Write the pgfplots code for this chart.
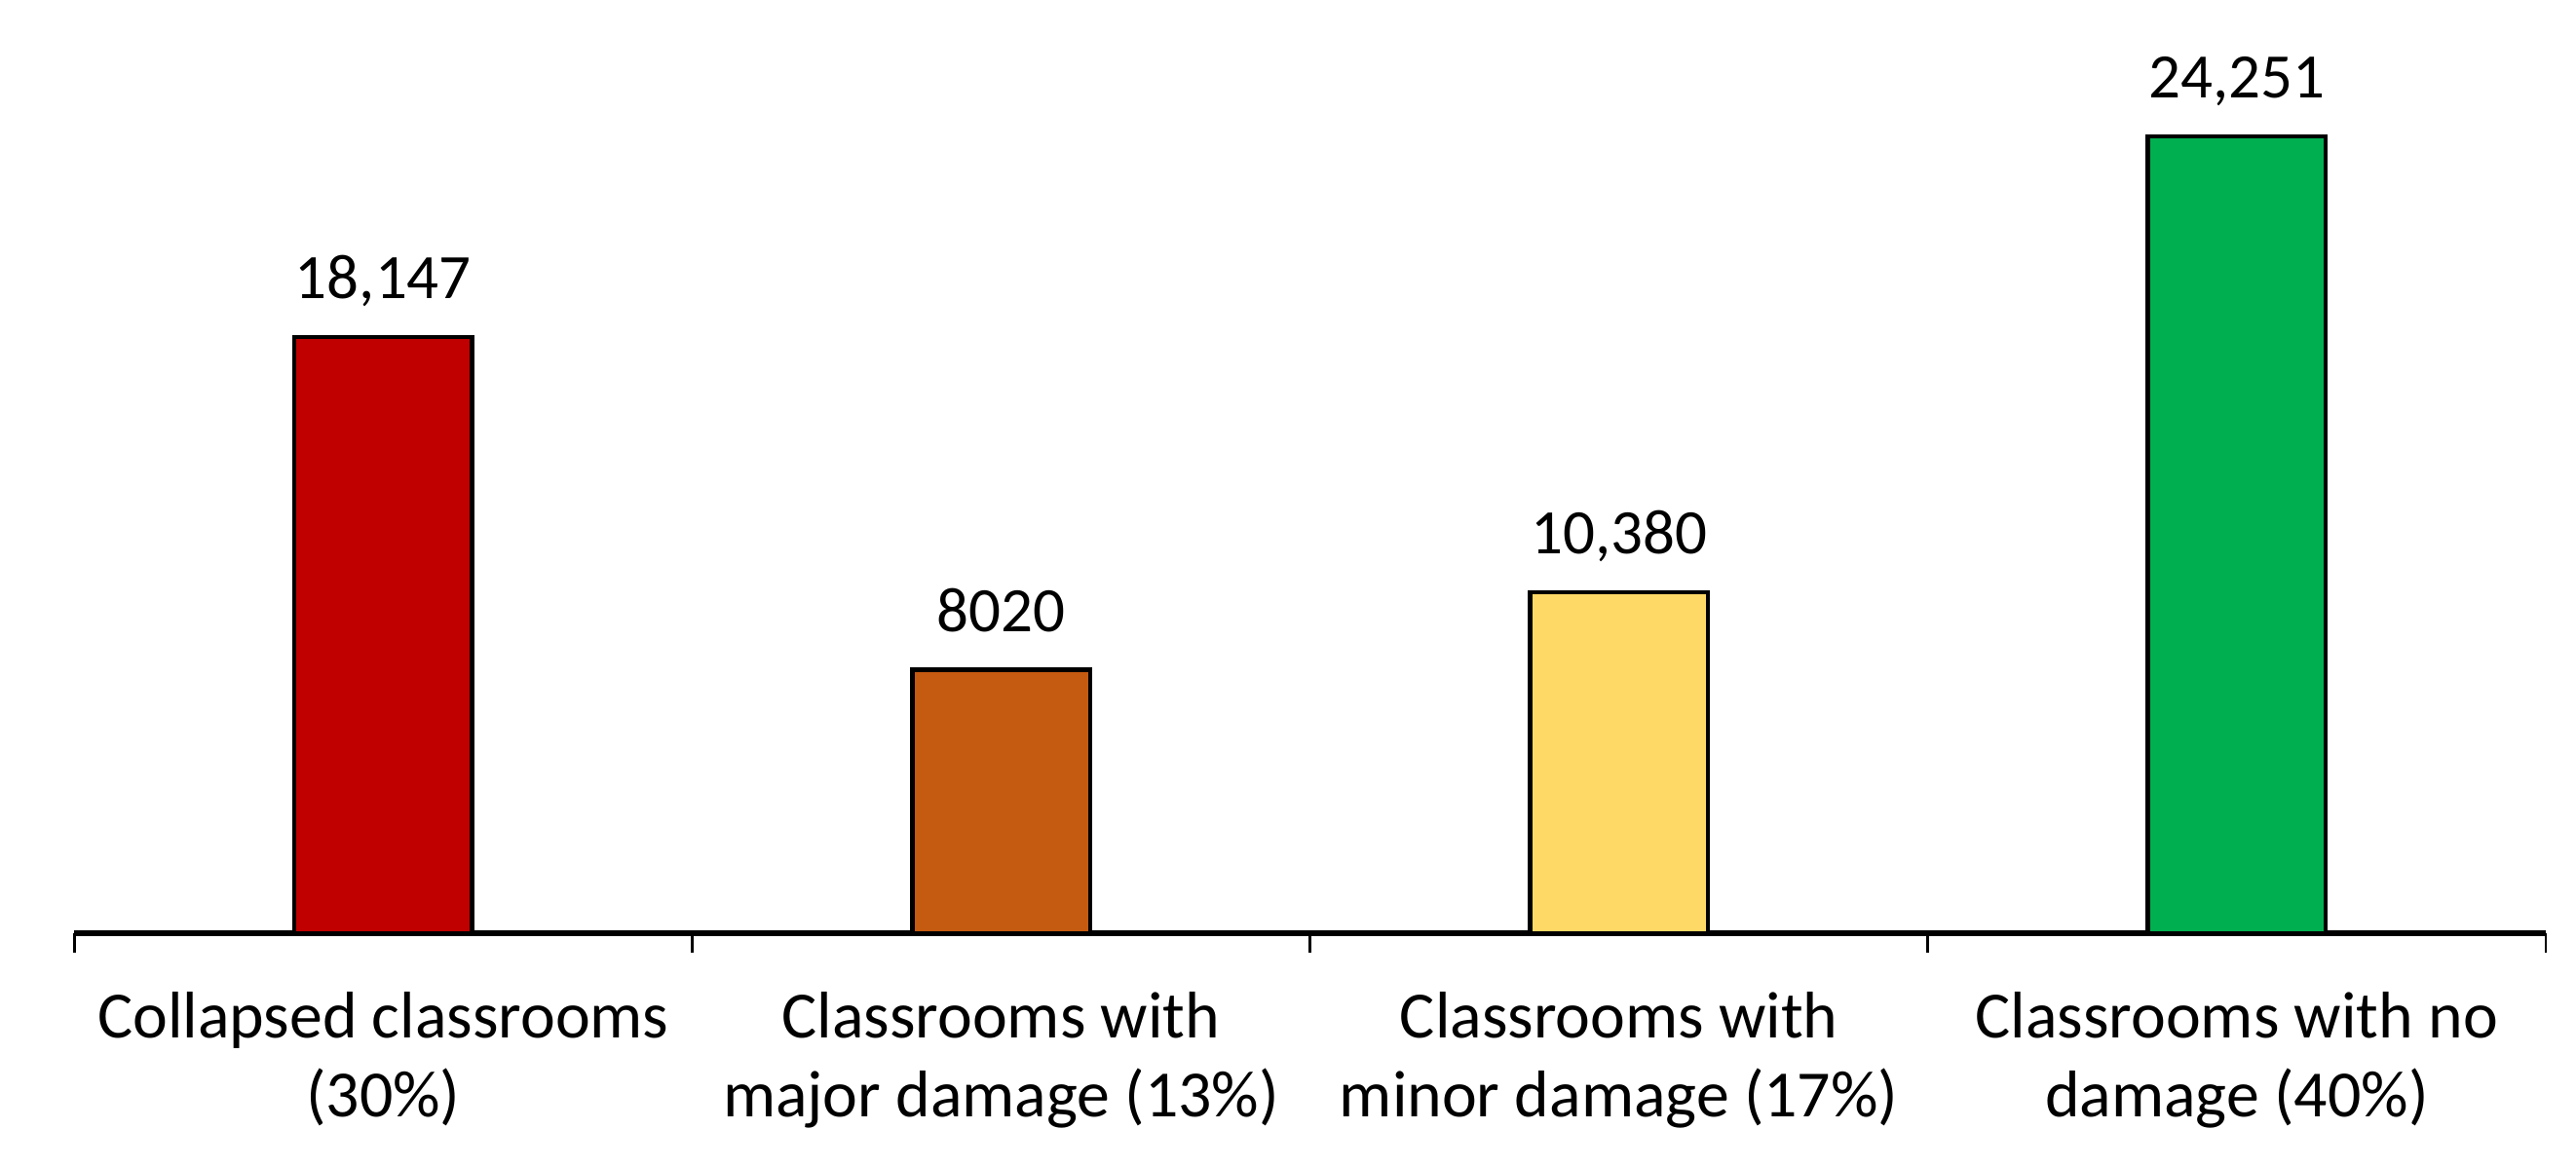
\documentclass[border=0pt]{standalone}
\usepackage{fontspec}
\setmainfont{Carlito}
\usepackage{pgfplots}
\pgfplotsset{compat=1.18}

\definecolor{cRed}{HTML}{C00000}
\definecolor{cOrange}{HTML}{C55A11}
\definecolor{cYellow}{HTML}{FFD966}
\definecolor{cGreen}{HTML}{00B050}

\begin{document}
\begin{tikzpicture}
\begin{axis}[
    scale only axis,
    width=449pt,
    height=169.6pt,
    xmin=0.5, xmax=4.5,
    ymin=0, ymax=28400,
    axis y line=none,
    axis x line*=bottom,
    axis line style={line width=1.1pt},
    xtick={1,2,3,4},
    xticklabels={{Collapsed classrooms\\(30\%)},
                 {Classrooms with\\major damage (13\%)},
                 {Classrooms with\\minor damage (17\%)},
                 {Classrooms with no\\damage (40\%)}},
    major tick length=0pt,
    minor xtick={0.5,1.5,2.5,3.5,4.5},
    minor tick length=3.5pt,
    tick align=outside,
    minor tick style={line width=0.5pt, black},
    x tick label style={font=\fontsize{12}{14.2}\selectfont, align=center,
                        yshift=-7.2pt},
    ybar,
    bar width=32.3pt,
    bar shift=0pt,
    point meta=explicit symbolic,
    nodes near coords,
    every node near coord/.append style={font=\fontsize{11.5}{14}\selectfont,
        anchor=base, inner sep=0pt, yshift=7pt},
    clip=false,
]
\addplot[fill=cRed, draw=black, line width=0.8pt] coordinates {(1,18147) [18,147]};
\addplot[fill=cOrange, draw=black, line width=0.8pt] coordinates {(2,8020) [8020]};
\addplot[fill=cYellow, draw=black, line width=0.8pt] coordinates {(3,10380) [10,380]};
\addplot[fill=cGreen, draw=black, line width=0.8pt] coordinates {(4,24251) [24,251]};
\coordinate (ll) at (rel axis cs:0,0);
\coordinate (ur) at (rel axis cs:1,1);
\end{axis}
\pgfresetboundingbox
\path[use as bounding box] ([xshift=-13.5pt,yshift=-42.3pt]ll) rectangle ([xshift=5.5pt]ur);
\end{tikzpicture}
\end{document}
